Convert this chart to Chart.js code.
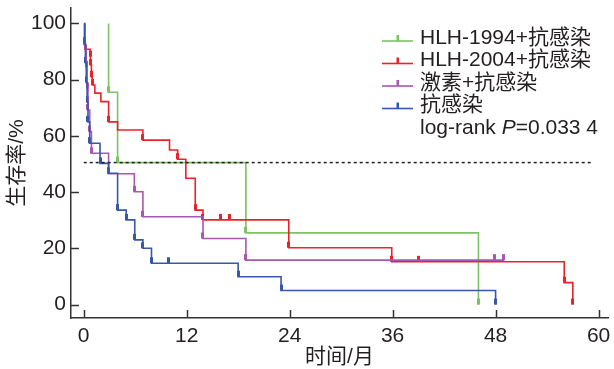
<!DOCTYPE html>
<html>
<head>
<meta charset="utf-8">
<script src="https://cdn.jsdelivr.net/npm/chart.js@4.4.1/dist/chart.umd.min.js"></script>
<style>
  html, body { margin: 0; padding: 0; background: #fff; }
  canvas { display: block; }
</style>
</head>
<body>
<canvas id="kmChart" width="614" height="369"></canvas>
<script>
// months / survival %
const greenTime = [2.9, 2.9, 3.95, 18.9, 46];
const greenSurv = [100, 75.5, 50.5, 25.5, 0];
const greenMarks = [2.9, 3.95, 18.9, 46];

const redTime = [0.15, 0.15, 0.75, 0.8, 0.9, 1.0, 1.3, 2.0, 2.9, 3.95, 6.9, 10, 10.95, 11.9, 13, 13.9, 23.9, 35.9, 56, 57];
const redSurv = [100, 90.8, 88.2, 85.2, 81, 78.1, 75.2, 72.2, 65, 62.1, 58.5, 55, 51.7, 44.9, 33.6, 30.1, 20.2, 15.2, 7.8, 0];
const redMarks = [0.75, 0.8, 0.9, 1.0, 2.9, 6.9, 10.95, 13, 13.9, 16, 17, 23.9, 35.9, 39, 56, 57];

const purpleTime = [0.05, 0.1, 0.3, 0.4, 0.5, 0.7, 0.9, 2.9, 5.9, 6.9, 13.9, 18.9, 49];
const purpleSurv = [100, 92.3, 84.6, 76.9, 69.2, 61.5, 53.8, 46.5, 40.1, 31.2, 23.5, 15.8, 15.8];
const purpleMarks = [0.1, 0.3, 0.4, 0.5, 0.7, 0.9, 2.9, 5.9, 6.9, 13.9, 18.9, 47.9, 48.9];

const blueTime = [0.05, 0.1, 0.2, 0.3, 0.4, 0.5, 0.7, 1.9, 2.9, 3.95, 4.95, 5.95, 6.9, 7.9, 18, 23, 48];
const blueSurv = [100, 93, 86, 79, 72, 65, 57.4, 50.2, 46.7, 33.6, 30.1, 23, 20, 14.7, 9.9, 5, 0];
const blueMarks = [0.1, 0.2, 0.3, 0.4, 0.5, 0.7, 1.9, 2.9, 3.95, 4.95, 5.95, 6.9, 7.9, 9.9, 18, 23, 48];

const medianX = [0, 59.1];
const medianY = [50.5, 50.5];

const xTickValues = [0, 12, 24, 36, 48, 60];
const yTickValues = [0, 20, 40, 60, 80, 100];

const seriesNames = ['HLH-1994+抗感染', 'HLH-2004+抗感染', '激素+抗感染', '抗感染'];
const seriesColors = ['#7cc363', '#ec2229', '#a957b0', '#3658aa'];
const pValueText = ['log-rank ', 'P', '=0.033 4'];

const FONT = "'Liberation Sans', Arial, 'Noto Sans CJK SC', sans-serif";
const FSIZE = 21;
const textColor = '#231f20';
const axisColor = '#333333';

function levelAt(times, surv, t) {
    let s = surv[0];
    for (let i = 0; i < times.length; i++) {
        if (times[i] <= t) s = surv[i];
    }
    return s;
}

// small upward tick used for censored cases; bottom half left empty so it sits on the line
function makeTick(color) {
    const c = document.createElement('canvas');
    c.width = 3;
    c.height = 14;
    const g = c.getContext('2d');
    g.fillStyle = color;
    g.fillRect(0, 1, 3, 6);
    return c;
}

function curve(times, surv, color) {
    return {
        data: times.map((t, i) => ({ x: t, y: surv[i] })),
        borderColor: color,
        borderWidth: 1.6,
        stepped: 'before',
        pointRadius: 0,
        fill: false
    };
}

function marks(markTimes, times, surv, color) {
    return {
        data: markTimes.map(t => ({ x: t, y: levelAt(times, surv, t) })),
        showLine: false,
        pointStyle: makeTick(color),
        pointRadius: 5,
        borderColor: color,
        backgroundColor: color
    };
}

const innerTicks = {
    id: 'innerTicks',
    afterDraw(chart) {
        const { ctx, chartArea: a } = chart;
        const x = chart.scales.x, y = chart.scales.y;
        ctx.save();
        ctx.strokeStyle = axisColor;
        ctx.lineWidth = 1.5;
        x.ticks.forEach(t => {
            const px = Math.round(x.getPixelForValue(t.value)) + 0.5;
            ctx.beginPath();
            ctx.moveTo(px, a.bottom);
            ctx.lineTo(px, a.bottom - 8);
            ctx.stroke();
        });
        y.ticks.forEach(t => {
            const py = Math.round(y.getPixelForValue(t.value)) + 0.5;
            ctx.beginPath();
            ctx.moveTo(a.left, py);
            ctx.lineTo(a.left + 8, py);
            ctx.stroke();
        });
        ctx.restore();
    }
};

const kmLegend = {
    id: 'kmLegend',
    afterDraw(chart) {
        const ctx = chart.ctx;
        const left = 382, textX = 420, rowH = 22.5;
        let rowY = 38;
        ctx.save();
        ctx.font = FSIZE + 'px ' + FONT;
        ctx.textBaseline = 'middle';
        seriesNames.forEach((name, i) => {
            ctx.strokeStyle = seriesColors[i];
            ctx.fillStyle = seriesColors[i];
            ctx.lineWidth = 1.6;
            ctx.beginPath();
            ctx.moveTo(left, rowY + 3);
            ctx.lineTo(left + 31, rowY + 3);
            ctx.stroke();
            ctx.fillRect(left + 14.5, rowY - 3, 2.5, 6);
            ctx.fillStyle = textColor;
            ctx.fillText(name, textX, rowY);
            rowY += rowH;
        });
        let px = textX;
        ctx.fillStyle = textColor;
        ctx.fillText(pValueText[0], px, rowY);
        px += ctx.measureText(pValueText[0]).width;
        ctx.font = 'italic ' + FSIZE + 'px ' + FONT;
        ctx.fillText(pValueText[1], px, rowY);
        px += ctx.measureText(pValueText[1]).width;
        ctx.font = FSIZE + 'px ' + FONT;
        ctx.fillText(pValueText[2], px, rowY);
        ctx.restore();
    }
};

const ctx = document.getElementById('kmChart').getContext('2d');

new Chart(ctx, {
    type: 'line',
    data: {
        datasets: [
            {
                data: medianX.map((v, i) => ({ x: v, y: medianY[i] })),
                borderColor: '#222',
                borderWidth: 1.5,
                borderDash: [3, 3],
                pointRadius: 0
            },
            curve(blueTime, blueSurv, seriesColors[3]),
            curve(purpleTime, purpleSurv, seriesColors[2]),
            curve(redTime, redSurv, seriesColors[1]),
            curve(greenTime, greenSurv, seriesColors[0]),
            marks(blueMarks, blueTime, blueSurv, seriesColors[3]),
            marks(purpleMarks, purpleTime, purpleSurv, seriesColors[2]),
            marks(redMarks, redTime, redSurv, seriesColors[1]),
            marks(greenMarks, greenTime, greenSurv, seriesColors[0])
        ]
    },
    options: {
        responsive: false,
        animation: false,
        layout: { padding: { top: 8, right: 1, left: 0, bottom: 0 } },
        plugins: {
            legend: { display: false },
            tooltip: { enabled: false }
        },
        scales: {
            x: {
                type: 'linear',
                min: -1.48,
                max: 61.1,
                grid: { display: false, drawTicks: false },
                border: { color: axisColor, width: 1.5 },
                ticks: { font: { family: FONT, size: FSIZE }, color: textColor, padding: 6, maxRotation: 0 },
                afterBuildTicks: s => { s.ticks = xTickValues.map(v => ({ value: v })); },
                afterFit: s => { s.height = 51; s.paddingLeft = 0; s.paddingRight = 0; },
                title: { display: true, text: '时间/月', color: textColor, font: { family: FONT, size: FSIZE, lineHeight: 1 }, padding: { top: 0, bottom: 1 } }
            },
            y: {
                type: 'linear',
                min: -4.8,
                max: 105.5,
                grid: { display: false, drawTicks: false },
                border: { color: axisColor, width: 1.5 },
                ticks: { font: { family: FONT, size: FSIZE }, color: textColor, padding: 5 },
                afterBuildTicks: s => { s.ticks = yTickValues.map(v => ({ value: v })); },
                afterFit: s => { s.width = 71; s.paddingTop = 0; s.paddingBottom = 0; },
                title: { display: true, text: '生存率/%', color: textColor, font: { family: FONT, size: FSIZE, lineHeight: 1 }, padding: { top: 7, bottom: 0 } }
            }
        }
    },
    plugins: [innerTicks, kmLegend]
});
</script>
</body>
</html>
